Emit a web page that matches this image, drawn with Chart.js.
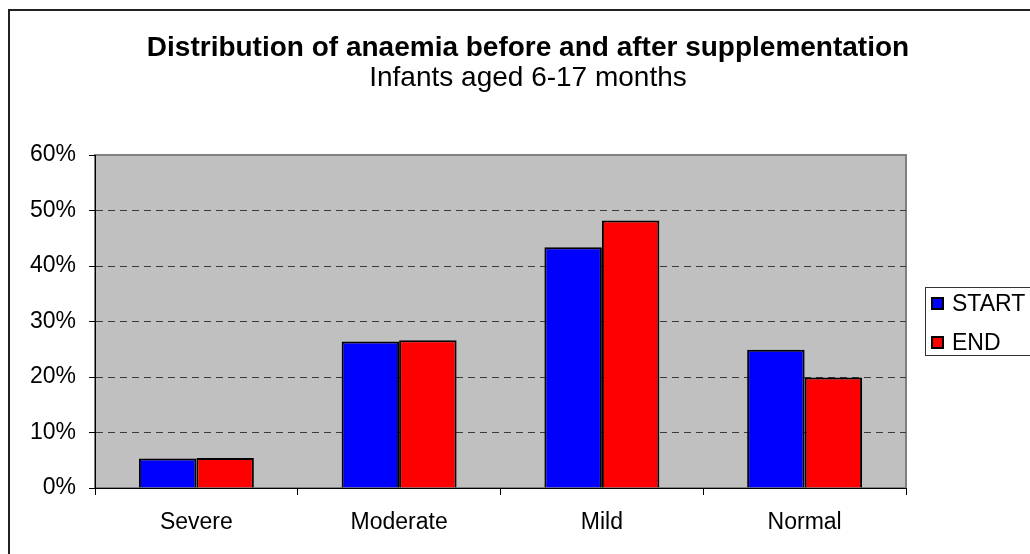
<!DOCTYPE html>
<html>
<head>
<meta charset="utf-8">
<script src="https://cdn.jsdelivr.net/npm/chart.js@4"></script>
<style>
html,body{margin:0;padding:0;background:#fff;}
#wrap{width:1030px;height:554px;position:relative;}
</style>
</head>
<body>
<div id="wrap"><canvas id="c" width="1030" height="554"></canvas></div>
<script>
const categories = ['Severe', 'Moderate', 'Mild', 'Normal'];
const startValues = [5.3, 26.4, 43.4, 24.9];
const endValues = [5.4, 26.6, 48.2, 19.9];
const seriesNames = ['START', 'END'];
const seriesColors = ['#0000ff', '#ff0000'];
const yTicks = [0, 10, 20, 30, 40, 50, 60];
const titleText = 'Distribution of anaemia before and after supplementation';
const subtitleText = 'Infants aged 6-17 months';

const FONT = "'Liberation Sans', Arial, sans-serif";

const decor = {
  id: 'decor',
  beforeDraw(chart) {
    const ctx = chart.ctx;
    const a = chart.chartArea;
    ctx.save();
    ctx.fillStyle = '#fff';
    ctx.fillRect(0, 0, chart.width, chart.height);
    // outer border
    ctx.strokeStyle = '#222';
    ctx.lineWidth = 2;
    ctx.strokeRect(9, 10, 1100, 600);
    // plot area
    ctx.fillStyle = '#c0c0c0';
    ctx.fillRect(a.left, a.top, a.right - a.left, a.bottom - a.top);
    ctx.strokeStyle = '#808080';
    ctx.lineWidth = 2;
    ctx.strokeRect(a.left, a.top, a.right - a.left, a.bottom - a.top);
    // titles
    ctx.fillStyle = '#000';
    ctx.textAlign = 'center';
    ctx.textBaseline = 'alphabetic';
    ctx.font = 'bold 28px ' + FONT;
    ctx.fillText(titleText, 528, 56);
    ctx.font = '28px ' + FONT;
    ctx.fillText(subtitleText, 528, 86);
    ctx.restore();
  },
  afterDraw(chart) {
    const ctx = chart.ctx;
    ctx.save();
    // legend box
    ctx.fillStyle = '#fff';
    ctx.fillRect(925.5, 287.5, 200, 68);
    ctx.strokeStyle = '#333';
    ctx.lineWidth = 1;
    ctx.strokeRect(925.5, 287.5, 200, 68);
    ctx.font = '23px ' + FONT;
    ctx.textBaseline = 'middle';
    ctx.textAlign = 'left';
    chart.data.datasets.forEach((ds, i) => {
      const cy = 303.5 + i * 39;
      ctx.fillStyle = ds.backgroundColor;
      ctx.fillRect(932, cy - 5.5, 11, 11);
      ctx.strokeStyle = '#000';
      ctx.lineWidth = 2;
      ctx.strokeRect(932, cy - 5.5, 11, 11);
      ctx.fillStyle = '#000';
      ctx.fillText(ds.label, 952, cy + 1);
    });
    ctx.restore();
  }
};

new Chart(document.getElementById('c'), {
  type: 'bar',
  data: {
    labels: categories,
    datasets: [
      { label: seriesNames[0], data: startValues, backgroundColor: seriesColors[0], borderColor: '#000', borderWidth: 2 },
      { label: seriesNames[1], data: endValues, backgroundColor: seriesColors[1], borderColor: '#000', borderWidth: 2 }
    ]
  },
  options: {
    responsive: false,
    maintainAspectRatio: false,
    animation: false,
    layout: { padding: { top: 155, right: 124, bottom: 0, left: 0 } },
    datasets: { bar: { categoryPercentage: 0.567, barPercentage: 1.0 } },
    plugins: { legend: { display: false }, title: { display: false }, tooltip: { enabled: false } },
    scales: {
      x: {
        offset: true,
        afterFit(s) { s.height = 66; },
        grid: { offset: true, drawOnChartArea: false, tickLength: 7, tickColor: '#000', color: '#000' },
        border: { color: '#000', width: 1 },
        ticks: { color: '#000', font: { family: FONT, size: 23 }, padding: 14, maxRotation: 0 }
      },
      y: {
        min: yTicks[0],
        max: yTicks[yTicks.length - 1],
        afterFit(s) { s.width = 95; },
        afterBuildTicks(s) { s.ticks = yTicks.map(v => ({ value: v })); },
        grid: {
          color: (c) => (c.tick && (c.tick.value === yTicks[0] || c.tick.value === yTicks[yTicks.length - 1])) ? 'rgba(0,0,0,0)' : '#3a3a3a',
          tickColor: '#000',
          tickLength: 6,
          tickBorderDash: [],
          lineWidth: 1
        },
        border: { color: '#000', width: 1, dash: [7, 5] },
        ticks: { color: '#000', font: { family: FONT, size: 23 }, padding: 13, callback: (v) => v + '%' }
      }
    }
  },
  plugins: [decor]
});
</script>
</body>
</html>
